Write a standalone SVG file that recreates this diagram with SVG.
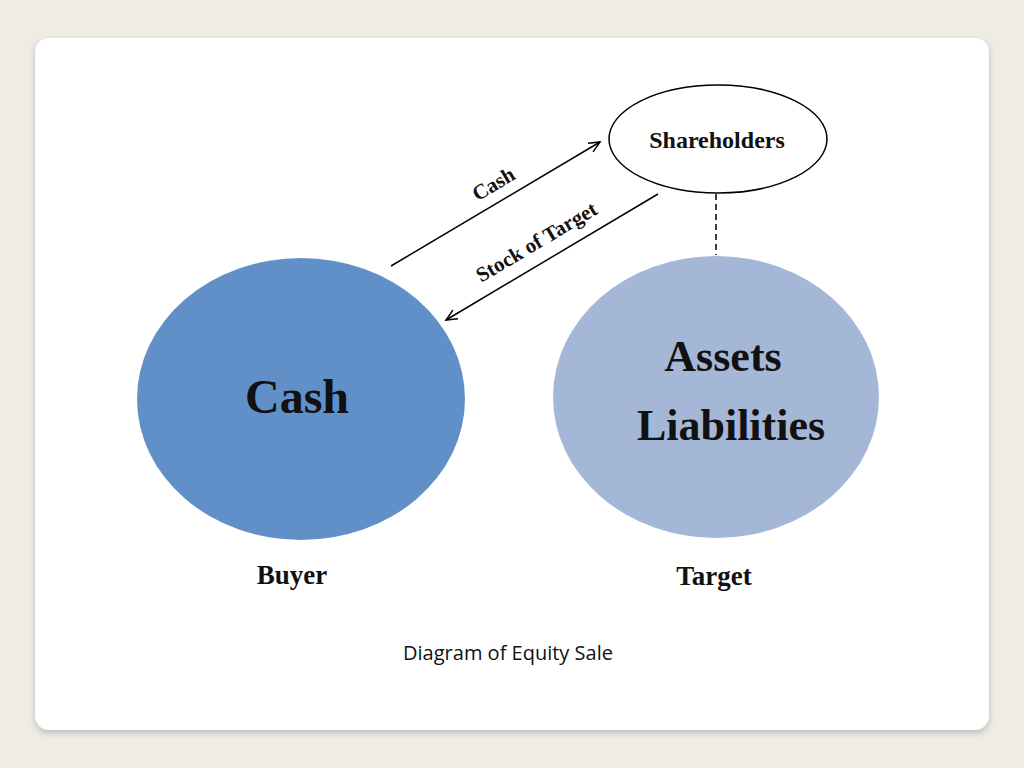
<svg xmlns="http://www.w3.org/2000/svg" width="1024" height="768" viewBox="0 0 1024 768">
<defs>
<marker id="ah" markerWidth="14" markerHeight="12" refX="12" refY="6" orient="auto" markerUnits="userSpaceOnUse"><path d="M1,1 L12,6 L1,11" fill="none" stroke="#000" stroke-width="1.5"/></marker>
<filter id="sh" x="-5%" y="-5%" width="110%" height="110%"><feDropShadow dx="0" dy="3" stdDeviation="3" flood-color="#999" flood-opacity="0.6"/></filter>
</defs>
<style>
.lb{font-family:"Liberation Serif","DejaVu Serif",serif;font-weight:bold;fill:#111;text-anchor:middle}
.ln{stroke:#000;stroke-width:1.5;fill:none}
</style>
<rect width="1024" height="768" fill="#eeece3"/>
<rect x="35" y="38" width="954" height="692" rx="14" fill="#fff" filter="url(#sh)"/>
<g id="connectors">
<line class="ln" x1="391" y1="266" x2="600" y2="142" marker-end="url(#ah)"/>
<line class="ln" x1="658" y1="194" x2="446" y2="320" marker-end="url(#ah)"/>
<line class="ln" x1="716" y1="194" x2="716" y2="255" stroke-dasharray="6,4"/>
<text class="lb" font-size="21" transform="translate(497,190) rotate(-30.7)">Cash</text>
<text class="lb" font-size="21" transform="translate(540,248) rotate(-30.7)">Stock of Target</text>
</g>
<g id="shareholders">
<ellipse cx="718" cy="139" rx="109" ry="54" fill="#fff" stroke="#000" stroke-width="1.5"/>
<text class="lb" x="717" y="148" font-size="24">Shareholders</text>
</g>
<g id="buyer">
<ellipse cx="301" cy="399" rx="164" ry="141" fill="#6190c9"/>
<text class="lb" x="297" y="413" font-size="48">Cash</text>
<text class="lb" x="292" y="584" font-size="27">Buyer</text>
</g>
<g id="target">
<ellipse cx="716" cy="397" rx="163" ry="141" fill="#a4b7d6"/>
<text class="lb" x="723" y="371" font-size="44">Assets</text>
<text class="lb" x="731" y="440" font-size="44">Liabilities</text>
<text class="lb" x="714" y="585" font-size="27">Target</text>
</g>
<text x="508" y="660" font-family="Open Sans,Liberation Sans,sans-serif" font-size="20" text-anchor="middle" fill="#111">Diagram of Equity Sale</text>
</svg>
